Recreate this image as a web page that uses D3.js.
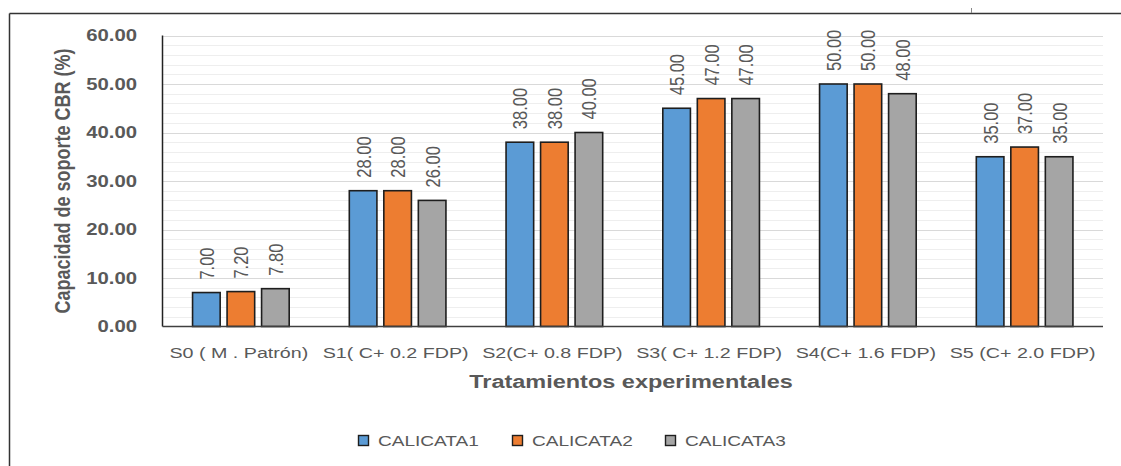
<!DOCTYPE html>
<html>
<head>
<meta charset="utf-8">
<script src="https://cdn.jsdelivr.net/npm/d3@7"></script>
<style>
  html, body { margin: 0; padding: 0; background: #fff; }
  svg { display: block; }
  text { font-family: "Liberation Sans", Arial, sans-serif; fill: #595959; }
</style>
</head>
<body>
<svg id="chart" width="1121" height="466"></svg>
<script>
// CBR bearing capacity per treatment and test pit
const categories = ["S0 ( M . Patrón)", "S1( C+ 0.2 FDP)", "S2(C+ 0.8 FDP)", "S3( C+ 1.2 FDP)", "S4(C+ 1.6 FDP)", "S5 (C+ 2.0 FDP)"];
const seriesNames = ["CALICATA1", "CALICATA2", "CALICATA3"];
const calicata1 = [7.00, 28.00, 38.00, 45.00, 50.00, 35.00];
const calicata2 = [7.20, 28.00, 38.00, 47.00, 50.00, 37.00];
const calicata3 = [7.80, 26.00, 40.00, 47.00, 48.00, 35.00];
const yTicks = [0, 10, 20, 30, 40, 50, 60];
const yMinorTicks = d3.range(0, 61, 2);
const colors = ["#5B9BD5", "#ED7D31", "#A5A5A5"];

const seriesValues = [calicata1, calicata2, calicata3];
const rows = categories.map((c, i) => ({
  category: c,
  values: seriesNames.map((s, j) => ({ series: s, idx: j, value: seriesValues[j][i] }))
}));

const svg = d3.select("#chart");
const S = 1.27; // horizontal text stretch
const fmt = d3.format(".2f");

const plot = { left: 162.5, right: 1103, top: 35.5, bottom: 326.5 };

const y = d3.scaleLinear().domain([0, 60]).range([plot.bottom, plot.top]);
const x0 = d3.scaleBand().domain(categories).range([plot.left, plot.right])
  .paddingInner(0.3835).paddingOuter(0.19175);
const x1 = d3.scaleBand().domain(seriesNames).range([0, x0.bandwidth()]).paddingInner(0.2);

// outer frame
svg.append("line").attr("x1", 9.5).attr("x2", 1121).attr("y1", 13.5).attr("y2", 13.5)
  .attr("stroke", "#333").attr("stroke-width", 1.5);
svg.append("line").attr("x1", 9.5).attr("x2", 9.5).attr("y1", 13.5).attr("y2", 466)
  .attr("stroke", "#333").attr("stroke-width", 1.5);
svg.append("line").attr("x1", 971.5).attr("x2", 971.5).attr("y1", 8).attr("y2", 13)
  .attr("stroke", "#888").attr("stroke-width", 1);

// minor gridlines
svg.append("g").selectAll("line").data(yMinorTicks.filter(v => v % 10 !== 0)).join("line")
  .attr("x1", plot.left).attr("x2", plot.right)
  .attr("y1", d => Math.round(y(d)) + 0.5).attr("y2", d => Math.round(y(d)) + 0.5)
  .attr("stroke", "#eeeeee").attr("stroke-width", 1);

// major gridlines
svg.append("g").selectAll("line").data(yTicks.filter(v => v > 0)).join("line")
  .attr("x1", plot.left).attr("x2", plot.right)
  .attr("y1", d => Math.round(y(d)) + 0.5).attr("y2", d => Math.round(y(d)) + 0.5)
  .attr("stroke", "#d9d9d9").attr("stroke-width", 1);

// y tick labels
svg.append("g").selectAll("text").data(yTicks).join("text")
  .attr("transform", d => `translate(137,${y(d)}) scale(${S},1)`)
  .attr("text-anchor", "end").attr("dy", "0.36em")
  .style("font-weight", "bold").style("font-size", "16px")
  .text(d => fmt(d));

// bars
const groups = svg.append("g").selectAll("g").data(rows).join("g")
  .attr("transform", d => `translate(${x0(d.category)},0)`);

groups.selectAll("rect").data(d => d.values).join("rect")
  .attr("x", d => x1(d.series))
  .attr("y", d => y(d.value))
  .attr("width", x1.bandwidth())
  .attr("height", d => y(0) - y(d.value))
  .attr("fill", d => colors[d.idx])
  .attr("stroke", "#1e1e1e").attr("stroke-width", 1.6);

// value labels
groups.selectAll("text").data(d => d.values).join("text")
  .attr("transform", d => `translate(${x1(d.series) + x1.bandwidth() / 2},${y(d.value) - 13}) scale(${S},1) rotate(-90)`)
  .attr("dy", "0.36em")
  .style("font-size", "16.5px")
  .text(d => fmt(d.value));

// axes lines
svg.append("line").attr("x1", plot.left).attr("x2", plot.left).attr("y1", plot.top).attr("y2", plot.bottom)
  .attr("stroke", "#222").attr("stroke-width", 1.5);
svg.append("line").attr("x1", plot.left).attr("x2", plot.right).attr("y1", plot.bottom).attr("y2", plot.bottom)
  .attr("stroke", "#404040").attr("stroke-width", 1.5);

// category labels
svg.append("g").selectAll("text").data(categories).join("text")
  .attr("transform", d => `translate(${x0(d) + x0.bandwidth() / 2 - 2},352) scale(${S},1)`)
  .attr("text-anchor", "middle").attr("dy", "0.36em")
  .style("font-size", "15.5px")
  .text(d => d);

// axis titles
svg.append("text")
  .attr("transform", `translate(631,381) scale(${S},1)`)
  .attr("text-anchor", "middle").attr("dy", "0.36em")
  .style("font-weight", "bold").style("font-size", "18.5px")
  .text("Tratamientos experimentales");

svg.append("text")
  .attr("transform", `translate(62,181) scale(${S},1) rotate(-90)`)
  .attr("text-anchor", "middle").attr("dy", "0.36em")
  .style("font-weight", "bold").style("font-size", "18px")
  .text("Capacidad de soporte CBR (%)");

// legend
const legendX = [358, 512, 665];
const legend = svg.append("g").selectAll("g").data(seriesNames).join("g")
  .attr("transform", (d, i) => `translate(${legendX[i]},441)`);
legend.append("rect").attr("x", 0.5).attr("y", -5.5).attr("width", 10).attr("height", 10)
  .attr("fill", (d, i) => colors[i]).attr("stroke", "#1e1e1e").attr("stroke-width", 1.4);
legend.append("text")
  .attr("transform", `translate(20,0) scale(${S},1)`)
  .attr("dy", "0.36em").style("font-size", "15px")
  .text(d => d);
</script>
</body>
</html>
